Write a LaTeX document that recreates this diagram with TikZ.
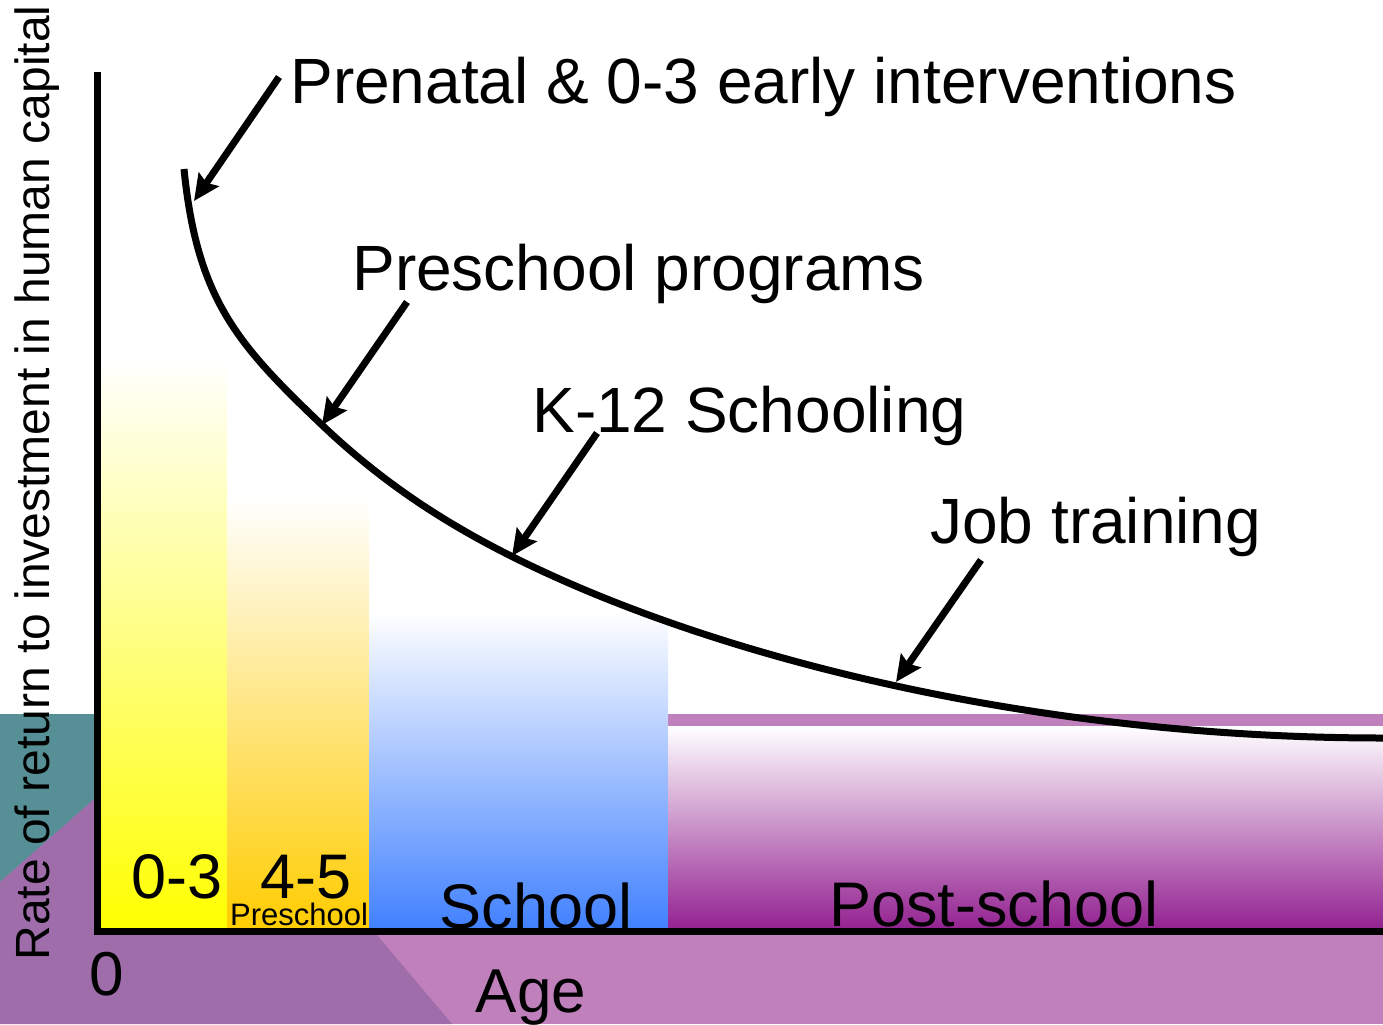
\documentclass[tikz,border=0pt]{standalone}
\usepackage{fontspec}
\setmainfont{Liberation Sans}
\usetikzlibrary{arrows.meta}
\definecolor{slateteal}{RGB}{86,143,149}
\definecolor{duskpurple}{RGB}{158,109,170}
\definecolor{lilac}{RGB}{192,128,188}
\definecolor{plum}{RGB}{146,32,144}
\definecolor{amber}{RGB}{255,204,0}
\definecolor{skyblue}{RGB}{64,128,255}
\begin{document}
\begin{tikzpicture}
        [x=0.5pt, y=-0.5pt,
        stage/.style={font=\fontsize{32}{38}\selectfont, anchor=base west, inner sep=0pt},
        barlabel/.style={font=\fontsize{31.5}{36}\selectfont, anchor=base, inner sep=0pt, text depth=0pt},
        pointer/.style={line width=3.5pt, -{Stealth[length=13pt, width=12pt, inset=2pt]}},
        axisline/.style={line width=3.5pt},
        curve/.style={line width=3.5pt}]

        \useasboundingbox (0,0) rectangle (1383,1024);

        % background
        \fill[lilac] (0,714) rectangle (1383,1024);
        \fill[slateteal] (0,714) -- (191,714) -- (0,882) -- cycle;
        \fill[duskpurple] (0,882) -- (191,714) -- (452,1024) -- (0,1024) -- cycle;

        % age bars
        \shade[top color=white, bottom color=yellow] (101,357) rectangle (227,931);
        \shade[top color=white, bottom color=amber] (227,497) rectangle (369,931);
        \shade[top color=white, bottom color=skyblue] (369,612) rectangle (668,931);
        \shade[top color=white, bottom color=plum] (668,726) rectangle (1383,931);

        \node[barlabel] (zerothree) at (177,898) {0-3};
        \node[barlabel] (fourfive) at (306,898) {4-5};
        \node[barlabel, font=\fontsize{15.5}{18}\selectfont] (preschoolbar) at (299,925) {Preschool};
        \node[barlabel] (school) at (536,928) {School};
        \node[barlabel] (postschool) at (994,926) {Post-school};

        % return curve
        \draw[curve] (184,169) .. controls (197,299) and (237,344) .. (322,425)
            .. controls (382,482) and (443,522) .. (513,557)
            .. controls (713,657) and (1033,738) .. (1383,738);

        % axes
        \draw[axisline] (97.5,72) -- (97.5,934);
        \draw[axisline] (94,931) -- (1383,931);
        \node[barlabel, font=\fontsize{31}{36}\selectfont] (origin) at (107,995) {0};
        \node[barlabel, font=\fontsize{31}{36}\selectfont] (age) at (531,1012) {Age};
        \node[anchor=base west, inner sep=0pt, rotate=90, font=\fontsize{24}{28}\selectfont]
            (ylabel) at (49,961) {Rate of return to investment in human capital};

        % programs
        \node[stage] (prenatal) at (290,103) {Prenatal \& 0-3 early interventions};
        \node[stage] (preschool) at (352,290) {Preschool programs};
        \node[stage] (kschool) at (532,432) {K-12 Schooling};
        \node[stage] (jobs) at (930,543) {Job training};

        \coordinate (prenatal tail) at (279,77);
        \coordinate (prenatal tip) at (194,201);
        \coordinate (preschool tail) at (407,302);
        \coordinate (preschool tip) at (322,425);
        \coordinate (kschool tail) at (597,433);
        \coordinate (kschool tip) at (512,556);
        \coordinate (jobs tail) at (981,560);
        \coordinate (jobs tip) at (896,682);

        \draw[pointer] (prenatal tail) -- (prenatal tip);
        \draw[pointer] (preschool tail) -- (preschool tip);
        \draw[pointer] (kschool tail) -- (kschool tip);
        \draw[pointer] (jobs tail) -- (jobs tip);

\end{tikzpicture}
\end{document}
